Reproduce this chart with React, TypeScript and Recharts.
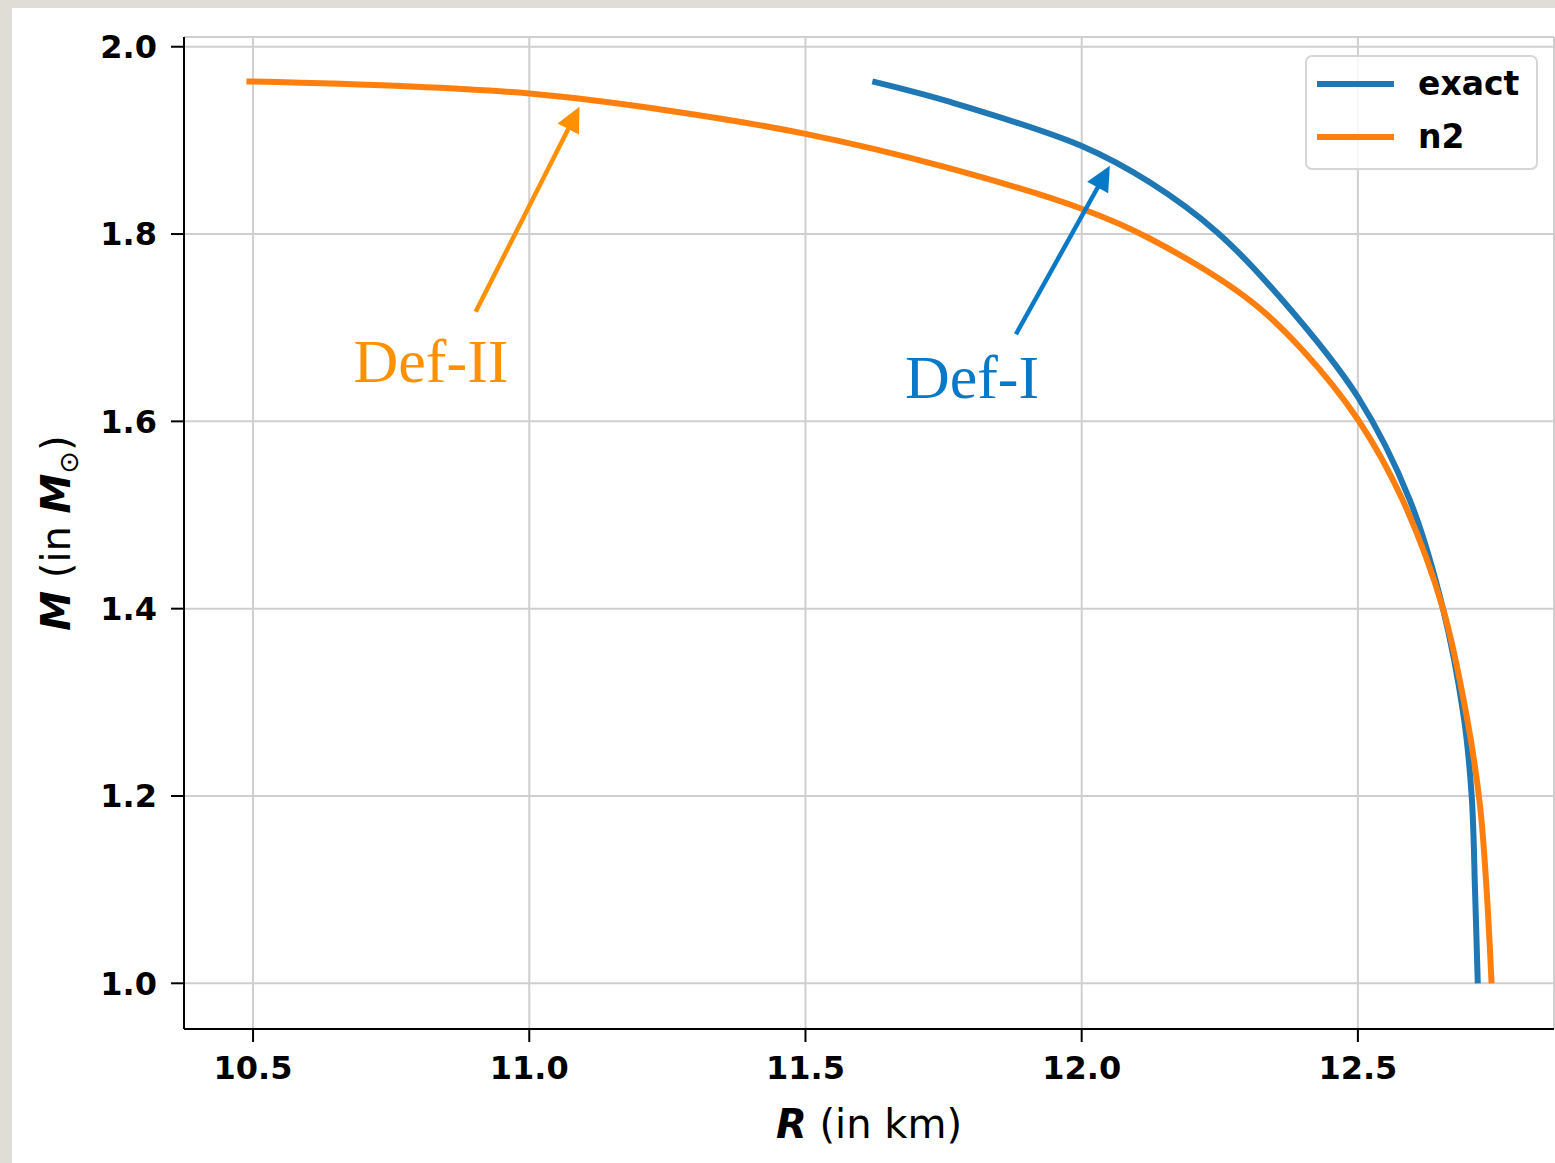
import React from 'react'
import {
  LineChart,
  Line,
  XAxis,
  YAxis,
  CartesianGrid,
  Legend,
  ReferenceLine,
  ReferenceDot,
} from 'recharts'

// mass-radius curves: R in km, M in solar masses
const exactR = [11.621, 11.762, 12.0, 12.124, 12.245, 12.364, 12.5, 12.594, 12.654, 12.6915, 12.706, 12.712, 12.717]
const exactM = [1.963, 1.941, 1.894, 1.855, 1.802, 1.729, 1.626, 1.516, 1.4, 1.285, 1.2, 1.1, 1.0]

const n2R = [10.488, 10.768, 11.0, 11.25, 11.5, 11.75, 12.0, 12.124, 12.305, 12.4, 12.5, 12.581, 12.654, 12.697, 12.721, 12.733, 12.742]
const n2M = [1.963, 1.958, 1.95, 1.932, 1.907, 1.872, 1.827, 1.795, 1.729, 1.676, 1.602, 1.516, 1.4, 1.285, 1.19, 1.1, 1.0]

const xTicks = [10.5, 11.0, 11.5, 12.0, 12.5]
const yTicks = [1.0, 1.2, 1.4, 1.6, 1.8, 2.0]

const seriesNames = ['exact', 'n2']
const seriesColors = ['#1f77b4', '#ff7f0e']

const exactData = exactR.map((r, i) => ({ r, m: exactM[i] }))
const n2Data = n2R.map((r, i) => ({ r, m: n2M[i] }))

const FONT = '"DejaVu Sans", sans-serif'
const SERIF = '"Liberation Serif", "Times New Roman", serif'

const DEF2_COLOR = '#ff9000'
const DEF1_COLOR = '#0879c6'

// centripetal Catmull-Rom curve factory (same maths as d3.curveCatmullRom, alpha 0.5);
// the curves turn from flat to vertical, so neither monotoneX nor monotoneY fits
function catmullRom(context: any) {
  let pts: number[][] = []
  return {
    areaStart() {},
    areaEnd() {},
    lineStart() {
      pts = []
    },
    point(x: number, y: number) {
      pts.push([+x, +y])
    },
    lineEnd() {
      if (!pts.length) return
      context.moveTo(pts[0][0], pts[0][1])
      const dist = (a: number[], b: number[]) => Math.hypot(b[0] - a[0], b[1] - a[1])
      for (let i = 0; i < pts.length - 1; i++) {
        const p0 = pts[i - 1] ?? pts[i]
        const p1 = pts[i]
        const p2 = pts[i + 1]
        const p3 = pts[i + 2] ?? pts[i + 1]
        const l01a = Math.sqrt(dist(p0, p1))
        const l12a = Math.sqrt(dist(p1, p2))
        const l23a = Math.sqrt(dist(p2, p3))
        const l01 = l01a * l01a
        const l12 = l12a * l12a
        const l23 = l23a * l23a
        let c1 = [p1[0], p1[1]]
        let c2 = [p2[0], p2[1]]
        if (l01a > 1e-9) {
          const a = 2 * l01 + 3 * l01a * l12a + l12
          const n = 3 * l01a * (l01a + l12a)
          c1 = [0, 1].map((k) => (p1[k] * a - p0[k] * l12 + p2[k] * l01) / n)
        }
        if (l23a > 1e-9) {
          const b = 2 * l23 + 3 * l23a * l12a + l12
          const m = 3 * l23a * (l23a + l12a)
          c2 = [0, 1].map((k) => (p2[k] * b + p1[k] * l23 - p3[k] * l12) / m)
        }
        context.bezierCurveTo(c1[0], c1[1], c2[0], c2[1], p2[0], p2[1])
      }
    },
  }
}

// line with a filled triangular head at the (x2, y2) end
function arrowShape(color: string) {
  return (props: any) => {
    const { x1, y1, x2, y2 } = props
    const dx = x2 - x1
    const dy = y2 - y1
    const len = Math.sqrt(dx * dx + dy * dy)
    const ux = dx / len
    const uy = dy / len
    const headLen = 25
    const headHalf = 12
    const bx = x2 - ux * headLen
    const by = y2 - uy * headLen
    const pts = [
      [x2, y2],
      [bx - uy * headHalf, by + ux * headHalf],
      [bx + uy * headHalf, by - ux * headHalf],
    ]
      .map((p) => p.join(','))
      .join(' ')
    return (
      <g>
        <line x1={x1} y1={y1} x2={bx + ux * 2} y2={by + uy * 2} stroke={color} strokeWidth={4.5} />
        <polygon points={pts} fill={color} />
      </g>
    )
  }
}

function textShape(label: string, color: string) {
  return (props: any) => (
    <text x={props.cx} y={props.cy} fill={color} fontFamily={SERIF} fontSize={62} textAnchor="start">
      {label}
    </text>
  )
}

function renderLegend() {
  return (
    <div
      style={{
        boxSizing: 'border-box',
        width: 233,
        height: 115,
        border: '2px solid #d6d6d6',
        borderRadius: 7,
        background: 'rgba(255,255,255,0.8)',
        padding: '0 0 0 10px',
        fontFamily: FONT,
        fontWeight: 'bold',
        fontSize: 33,
      }}
    >
      {seriesNames.map((name, i) => (
        <div key={name} style={{ display: 'flex', alignItems: 'center', height: 53 }}>
          <div style={{ width: 77, height: 6, background: seriesColors[i], marginRight: 24 }} />
          <span style={{ lineHeight: '40px' }}>{name}</span>
        </div>
      ))}
    </div>
  )
}

function XLabel(props: any) {
  const { x, y, width } = props.viewBox
  return (
    <text x={x + width / 2} y={y + 109} textAnchor="middle" fontFamily={FONT} fontSize={40} fill="#000">
      <tspan fontWeight="bold" fontStyle="italic">R</tspan>
      <tspan> (in km)</tspan>
    </text>
  )
}

function YLabel(props: any) {
  const { y, height } = props.viewBox
  const cx = 70
  const cy = y + height / 2
  return (
    <text
      x={cx}
      y={cy}
      transform={`rotate(-90, ${cx}, ${cy})`}
      textAnchor="middle"
      fontFamily={FONT}
      fontSize={40}
      fill="#000"
    >
      <tspan fontWeight="bold" fontStyle="italic">M</tspan>
      <tspan> (in </tspan>
      <tspan fontWeight="bold" fontStyle="italic">M</tspan>
      <tspan fontSize={27} dy={8}>⊙</tspan>
      <tspan dy={-8}>)</tspan>
    </text>
  )
}

const tickStyle = { fontFamily: FONT, fontSize: 32, fontWeight: 'bold', fill: '#000' }

export default function App() {
  return (
    <div style={{ position: 'absolute', left: 0, top: 0, width: 1555, height: 1163, background: '#e0ddd6' }}>
      <div style={{ position: 'absolute', left: 12, top: 8, right: 0, bottom: 0, background: '#fff' }} />
      <div style={{ position: 'absolute', left: 0, top: 0 }}>
        <LineChart width={1555} height={1163} margin={{ top: 37, right: 1, bottom: 0, left: 0 }}>
          <CartesianGrid stroke="#cfcfcf" strokeWidth={2} />
          <XAxis
            dataKey="r"
            type="number"
            domain={[10.375, 12.855]}
            allowDataOverflow
            ticks={xTicks}
            tickFormatter={(v: number) => v.toFixed(1)}
            height={134}
            tickSize={13}
            tickMargin={14}
            tick={tickStyle}
            stroke="#000"
            axisLine={{ stroke: '#000', strokeWidth: 2 }}
            tickLine={{ stroke: '#000', strokeWidth: 2 }}
            label={<XLabel />}
          />
          <YAxis
            dataKey="m"
            type="number"
            domain={[0.9512, 2.0104]}
            allowDataOverflow
            ticks={yTicks}
            tickFormatter={(v: number) => v.toFixed(1)}
            width={184}
            tickSize={13}
            tickMargin={14}
            tick={tickStyle}
            stroke="#000"
            axisLine={{ stroke: '#000', strokeWidth: 2 }}
            tickLine={{ stroke: '#000', strokeWidth: 2 }}
            label={<YLabel />}
          />
          <XAxis xAxisId="top" orientation="top" height={0} tick={false} tickLine={false} axisLine={{ stroke: '#000', strokeWidth: 2 }} />
          <YAxis yAxisId="right" orientation="right" width={0} tick={false} tickLine={false} axisLine={{ stroke: '#000', strokeWidth: 2 }} />
          <Legend
            layout="horizontal"
            verticalAlign="middle"
            align="center"
            content={renderLegend}
            wrapperStyle={{ left: 1305, top: 55, width: 233 }}
          />
          <Line
            data={exactData}
            dataKey="m"
            name={seriesNames[0]}
            type={catmullRom as any}
            stroke={seriesColors[0]}
            strokeWidth={6}
            dot={false}
            isAnimationActive={false}
          />
          <Line
            data={n2Data}
            dataKey="m"
            name={seriesNames[1]}
            type={catmullRom as any}
            stroke={seriesColors[1]}
            strokeWidth={6}
            dot={false}
            isAnimationActive={false}
          />
          <ReferenceLine
            segment={[{ x: 10.903, y: 1.717 }, { x: 11.091, y: 1.936 }]}
            shape={arrowShape(DEF2_COLOR)}
          />
          <ReferenceLine
            segment={[{ x: 11.881, y: 1.693 }, { x: 12.051, y: 1.873 }]}
            shape={arrowShape(DEF1_COLOR)}
          />
          <ReferenceDot x={10.682} y={1.642} shape={textShape('Def-II', DEF2_COLOR)} />
          <ReferenceDot x={11.68} y={1.625} shape={textShape('Def-I', DEF1_COLOR)} />
        </LineChart>
      </div>
    </div>
  )
}
